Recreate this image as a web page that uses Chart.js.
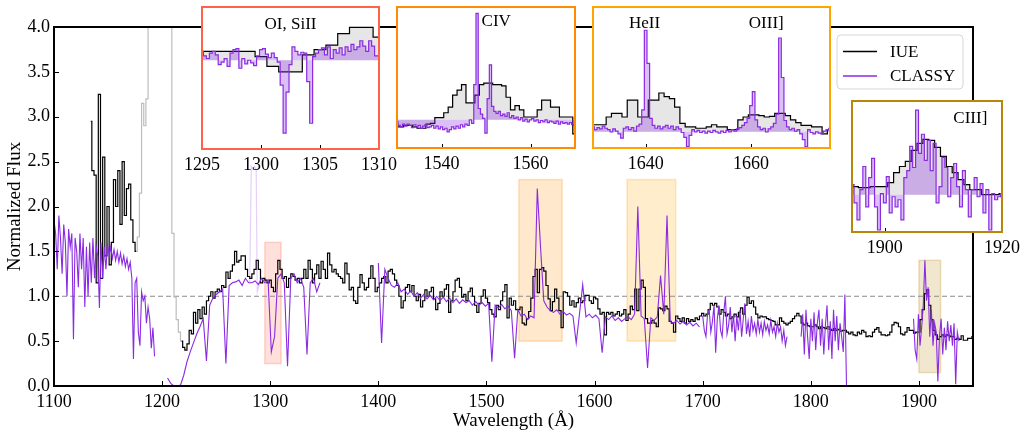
<!DOCTYPE html>
<html>
<head>
<meta charset="utf-8">
<script src="https://cdn.jsdelivr.net/npm/chart.js@4.4.1/dist/chart.umd.min.js"></script>
<style>
  body { margin: 0; background: #fff; width: 1026px; height: 436px; overflow: hidden; position: relative; }
  canvas { position: absolute; }
</style>
</head>
<body>
<canvas id="main" width="1026" height="436" style="left:0;top:0"></canvas>
<canvas id="insetOI"></canvas>
<canvas id="insetCIV"></canvas>
<canvas id="insetHeII"></canvas>
<canvas id="insetCIII"></canvas>
<script>
// ---- main panel ----
const xTicks = [1100, 1200, 1300, 1400, 1500, 1600, 1700, 1800, 1900];
const yTicks = [0, 0.5, 1, 1.5, 2, 2.5, 3, 3.5, 4];
const refLevel = 1.0;

// IUE, 2 A bins starting at 1134 A (nulls = masked Lya region)
const iueStart = 1134, iueStep = 2;
const iueFlux = [
  2.95, 2.4, 2.35, 1.15, 3.25, 1.2, 2.55, 1.45, 2.0, 1.35,      // 1134
  1.6, 2.3, 2.0, 2.4, 1.8, 2.5, 1.9, 2.2, 2.25, 1.85,           // 1154
  1.6, 1.5, null, null, null, null, null, null, null, null,     // 1174
  null, null, null, null, null, null, null, null, null, null,   // 1194
  null, null, 0.5, 0.43, 0.4, 0.47, 0.62, 0.58, 0.82, 0.7,      // 1214
  0.85, 0.75, 0.88, 0.8, 0.95, 1.0, 1.05, 0.98, 1.05, 1.08,     // 1234
  1.05, 1.12, 1.1, 1.27, 1.2, 1.28, 1.35, 1.5, 1.38, 1.4,       // 1254
  1.45, 1.45, 1.3, 1.22, 1.2, 1.25, 1.3, 1.4, 1.3, 1.15,        // 1274
  1.2, 1.18, 1.15, 1.18, 1.1, 1.05, 1.25, 1.4, 1.3, 1.2,        // 1294
  1.22, 1.1, 1.2, 1.25, 1.22, 1.18, 1.2, 1.15, 1.2, 1.3,        // 1314
  1.2, 1.4, 1.3, 1.15, 1.25, 1.35, 1.2, 1.39, 1.3, 1.2,         // 1334
  1.48, 1.35, 1.27, 1.3, 1.25, 1.22, 1.2, 1.15, 1.37, 1.25,     // 1354
  1.07, 1.1, 0.95, 0.92, 1.1, 1.24, 1.15, 1.07, 1.1, 1.2,       // 1374
  1.34, 1.2, 1.05, 1.1, 1.15, 1.2, 1.22, 1.15, 1.28, 1.3,       // 1394
  1.25, 1.18, 1.12, 1.0, 0.87, 0.95, 1.1, 1.13, 1.05, 1.12,     // 1414
  1.0, 0.95, 1.02, 0.88, 0.95, 1.07, 1.0, 1.05, 1.1, 0.97,      // 1434
  0.85, 0.92, 1.05, 1.0, 1.08, 1.13, 0.82, 0.95, 1.05, 1.18,    // 1454
  1.2, 1.1, 0.99, 1.02, 0.95, 1.05, 1.09, 1.0, 0.9, 0.82,       // 1474
  0.92, 1.0, 1.07, 0.98, 0.93, 0.85, 0.8, 0.77, 0.9, 0.85,      // 1494
  0.95, 1.05, 1.13, 0.76, 0.98, 0.9, 0.95, 0.85, 0.85, 0.88,    // 1514
  0.7, 0.68, 0.75, 0.83, 0.98, 1.22, 1.3, 1.04, 1.3, 1.32,      // 1534
  1.28, 1.12, 0.97, 0.84, 0.94, 1.08, 0.98, 0.84, 0.65, 1.05,   // 1554
  1.04, 1.0, 0.9, 0.95, 0.88, 0.93, 0.98, 0.93, 0.95, 1.01,     // 1574
  1.01, 0.95, 0.92, 0.99, 0.97, 0.86, 0.8, 0.82, 0.57, 0.82,    // 1594
  0.8, 0.82, 0.78, 0.8, 0.83, 0.78, 0.8, 0.85, 0.73, 0.8,       // 1614
  0.89, 0.85, 1.08, 0.84, 1.08, 1.18, 1.1, 0.75, 0.7, 0.7,      // 1634
  0.73, 0.7, 0.66, 0.87, 0.86, 0.84, 0.89, 0.86, 0.72, 0.7,     // 1654
  0.6, 0.78, 0.75, 0.72, 0.76, 0.7, 0.75, 0.72, 0.74, 0.72,     // 1674
  0.76, 0.74, 0.78, 0.81, 0.78, 0.8, 0.85, 0.92, 0.9, 0.92,     // 1694
  0.88, 0.8, 0.85, 0.82, 0.78, 0.8, 0.75, 0.77, 0.8, 0.77,      // 1714
  0.82, 0.87, 0.8, 0.9, 0.99, 0.92, 0.95, 0.88, 0.8, 0.76,      // 1734
  0.78, 0.77, 0.77, 0.75, 0.74, 0.73, 0.72, 0.68, 0.68, 0.76,   // 1754
  0.72, 0.7, 0.68, 0.7, 0.72, 0.75, 0.78, 0.81, 0.78, 0.7,      // 1774
  0.68, 0.7, 0.67, 0.66, 0.66, 0.68, 0.66, 0.64, 0.66, 0.65,    // 1794
  0.64, 0.66, 0.63, 0.62, 0.64, 0.62, 0.63, 0.61, 0.62, 0.62,   // 1814
  0.6, 0.58, 0.6, 0.57, 0.56, 0.6, 0.58, 0.62, 0.6, 0.55,       // 1834
  0.56, 0.55, 0.6, 0.63, 0.65, 0.6, 0.57, 0.57, 0.56, 0.57,     // 1854
  0.6, 0.68, 0.71, 0.7, 0.66, 0.58, 0.57, 0.6, 0.65, 0.62,      // 1874
  0.62, 0.59, 0.6, 0.6, 0.74, 0.85, 1.03, 1.07, 0.9, 0.74,      // 1894
  0.62, 0.57, 0.52, 0.55, 0.57, 0.55, 0.57, 0.56, 0.55, 0.55,   // 1914
  0.52, 0.53, 0.52, 0.56, 0.51, 0.51, 0.53, 0.53, 0.55          // 1934
];

// IUE inside the masked Lya window (light grey)
const iueMaskStart = 1176, iueMaskStep = 2;
const iueMaskFlux = [1.5, 1.66, 2.15, 3.15, 2.9, 3.2, 4.5, 4.5, 4.5, 4.5, 4.5,
  4.5, 4.5, 4.5, 4.5, 4.5, 4.5, 1.7, 0.99, 0.74, 0.6, 0.5];

// CLASSY, one array per detector segment
const classyBlue = [ // 1100, 1.5 A
  1.85, 1.70, 1.30, 1.90, 1.65, 1.25, 1.80, 1.60, 1.00, 1.75,
  1.55, 1.70, 0.52, 1.65, 1.50, 1.10, 1.70, 1.30, 1.65, 0.88,
  1.55, 1.00, 1.60, 1.15, 1.65, 1.20, 1.55, 1.45, 0.87, 1.60,
  1.20, 1.55, 1.30, 1.58, 1.45, 1.55, 1.42, 1.52, 1.40, 1.50,
  1.38, 1.48, 1.36, 1.45, 1.33, 1.42, 1.30, 1.38, 1.20, 0.30,
  1.15, 1.20, 0.60, 0.45, 1.05, 0.95, 1.00, 0.70, 0.88, 0.75,
  0.42, 0.65, 0.33
];
const classyLya = [ // 1205, 3 A
  0.09, 0.03, 0.0, 0.0, 0.01,
  0.12, 0.27, 0.38, 0.48, 0.58, 0.66, 0.75, 0.28, 0.9, 0.98,
  1.02, 1.05, 1.08, 0.25, 1.12, 1.15, 1.16, 1.18, 1.12, 1.2,
  1.15, 1.15, 1.17, 1.13, 1.2, 1.15, 1.18, 0.38, 0.55, 1.2,
  1.25, 1.15, 0.22, 1.2, 1.25, 1.15, 1.2, 1.1, 0.35, 1.15,
  1.2, 1.05, 1.15
];
const classyMid = [ // 1400, 3 A
  1.37, 0.48, 1.3, 1.2, 1.12, 1.1, 1.15, 1.05, 1.08, 1.02,
  1.06, 1.0, 1.04, 0.98, 1.02, 0.97, 1.01, 0.96, 1.0, 0.95,
  0.99, 0.94, 0.98, 0.93, 0.97, 0.92, 0.96, 0.93, 0.95, 0.9,
  0.94, 0.9, 0.93, 0.89, 0.92, 0.27, 0.9, 0.87, 0.91, 0.86,
  0.89, 0.84, 0.31, 0.85, 0.78, 0.8, 0.74, 0.78, 0.76, 2.2,
  1.55, 0.95, 0.88, 0.84, 0.82, 0.85, 0.8, 0.83, 0.79, 0.81,
  0.78, 0.48, 0.8, 1.13, 0.77, 0.8, 0.76, 0.79, 0.75, 0.37,
  0.77, 0.74, 0.78, 0.73, 0.76, 0.72, 0.75, 0.77, 0.74, 0.8,
  2.0, 0.78, 0.75, 0.2, 0.76, 0.73, 0.77, 1.23, 0.8, 1.9,
  0.72, 0.7, 0.73, 0.69, 0.72, 0.68, 0.71, 0.67, 0.7, 0.66
];
const classyRed1 = [ // 1700, 1.5 A
  0.78, 0.62, 0.55, 0.80, 0.85, 0.60, 0.72, 0.90, 0.37, 0.75,
  0.90, 0.62, 0.55, 0.82, 1.00, 0.58, 0.68, 0.88, 0.60, 0.80,
  0.50, 0.78, 0.62, 0.85, 0.55, 0.75, 0.92, 0.58, 0.72, 0.55,
  0.78, 0.62, 0.70, 0.58, 0.74, 0.60, 0.70, 0.57, 0.72, 0.62,
  0.68, 0.58, 0.73, 0.60, 0.66, 0.55, 0.70, 0.60, 0.66, 0.50,
  0.62, 0.45, 0.55
];
const classyRed2 = [ // 1791, 1.5 A
  0.55, 0.80, 0.35, 0.85, 0.55, 0.30, 0.75, 0.50, 0.82, 0.40,
  0.70, 0.85, 0.45, 0.75, 0.35, 0.68, 0.90, 0.40, 0.72, 0.30,
  0.85, 0.50, 0.78, 0.40, 0.70, 0.55, 0.38, 1.02, 0.0
];
const classyRed3 = [ // 1895, 1.5 A
  0.75, 0.40, 0.30, 0.80, 0.45, 0.65, 0.90, 1.40, 0.95, 1.10,
  0.55, 0.85, 0.45, 0.70, 0.60, 0.05, 0.55, 0.75, 0.35, 0.65,
  0.40, 0.72, 0.50, 0.68, 0.45, 0.70, 0.02, 0.60, 0.50
];
const classyStarts = [1100, 1205, 1400, 1700, 1791, 1895];
const classySteps = [1.5, 3, 3, 1.5, 1.5, 1.5];
const classySegments = [classyBlue, classyLya, classyMid, classyRed1, classyRed2, classyRed3];

// CLASSY airglow-masked pixels (pale purple)
const airglowWave = [1281, 1282.5, 1284, 1285.5, 1287, 1288, 1290];
const airglowFlux = [1.15, 2.45, 2.42, 2.45, 2.4, 1.05, 1.15];
// masked stretches drawn at zero (light grey)
const zeroMaskFrom = [1177, 1281];
const zeroMaskTo = [1198, 1290];

// highlighted windows shown in the insets
const winFrom = [1295, 1530, 1630, 1900];
const winTo = [1310, 1570, 1675, 1920];
const winLow = [0.25, 0.5, 0.5, 0.15];
const winHigh = [1.6, 2.3, 2.3, 1.4];
const winColors = ['#ff6347', '#ff8c00', '#ffa500', '#b8860b'];

// ---- insets ----
const oiTicks = [1295, 1300, 1305, 1310];
const oiIueFlux = [1.1, 1.1, 1.1, 1.1, 1.1, 1.04, 0.93, 0.87, 0.87, 1.06, 1.12, 1.17, 1.3, 1.37, 1.37, 1.26]; // 1295, 1 A
const oiClassyFlux = [ // 1295, 0.25 A
  1.10, 1.05, 1.02, 1.08, 1.10, 1.06, 0.95, 0.98, 1.02, 0.93,
  1.08, 1.12, 1.13, 0.91, 1.02, 0.96, 1.00, 0.97, 0.94, 1.05,
  1.12, 1.13, 1.07, 1.03, 1.08, 1.03, 0.98, 0.72, 0.18, 0.64,
  0.95, 1.15, 1.10, 1.06, 1.09, 1.08, 0.76, 0.29, 1.04, 1.08,
  1.12, 1.14, 1.06, 1.15, 1.02, 1.12, 1.08, 1.14, 1.06, 1.15,
  1.10, 1.18, 1.12, 1.15, 1.22, 1.16, 1.10, 1.22, 1.16, 1.05,
  1.05
];

const civTicks = [1540, 1560];
const civIueFlux = [ // 1530, 1 A
  0.70, 0.70, 0.72, 0.72, 0.70, 0.68, 0.68, 0.74, 0.75, 0.83,
  0.83, 0.90, 0.98, 1.15, 1.22, 1.30, 1.04, 1.04, 1.15, 1.30,
  1.32, 1.32, 1.30, 1.30, 1.28, 1.12, 0.94, 1.00, 0.94, 0.84,
  0.84, 0.84, 0.94, 1.08, 1.08, 0.98, 0.98, 0.84, 0.84, 0.84,
  0.60
];
const civClassyFlux = [ // 1530, 0.5 A
  0.77, 0.72, 0.70, 0.74, 0.71, 0.74, 0.72, 0.69, 0.73, 0.70,
  0.72, 0.68, 0.71, 0.73, 0.69, 0.70, 0.72, 0.68, 0.71, 0.67,
  0.70, 0.66, 0.68, 0.63, 0.66, 0.70, 0.67, 0.71, 0.68, 0.73,
  0.70, 0.74, 0.72, 0.80, 0.75, 1.30, 2.31, 0.96, 0.88, 0.82,
  0.61, 1.10, 1.58, 0.99, 0.92, 0.89, 0.92, 0.86, 0.88, 0.85,
  0.90, 0.83, 0.86, 0.82, 0.84, 0.80, 0.83, 0.78, 0.81, 0.77,
  0.80, 0.82, 0.78, 0.80, 0.76, 0.79, 0.77, 0.80, 0.76, 0.78,
  0.77, 0.75, 0.78, 0.74, 0.77, 0.75, 0.76, 0.74, 0.76, 0.73,
  0.72
];

const heTicks = [1640, 1660];
const heIueFlux = [ // 1630, 1 A
  0.73, 0.73, 0.73, 0.84, 0.89, 0.89, 0.84, 1.08, 1.08, 0.84,
  0.84, 1.08, 1.08, 1.18, 1.13, 1.10, 0.98, 0.75, 0.70, 0.70,
  0.68, 0.68, 0.70, 0.73, 0.70, 0.70, 0.66, 0.66, 0.80, 0.84,
  0.87, 0.87, 0.86, 0.84, 0.85, 0.89, 0.89, 0.86, 0.80, 0.76,
  0.72, 0.72, 0.70, 0.70, 0.60, 0.66
];
const heClassyFlux = [ // 1630, 0.5 A
  0.70, 0.66, 0.69, 0.67, 0.71, 0.68, 0.66, 0.63, 0.67, 0.64,
  0.60, 0.54, 0.68, 0.70, 0.66, 0.69, 0.64, 0.71, 0.74, 0.94,
  2.07, 1.60, 0.82, 0.72, 0.68, 0.71, 0.67, 0.70, 0.72, 0.68,
  0.71, 0.66, 0.70, 0.67, 0.62, 0.55, 0.42, 0.58, 0.66, 0.63,
  0.65, 0.62, 0.64, 0.61, 0.64, 0.62, 0.65, 0.63, 0.61, 0.64,
  0.62, 0.65, 0.63, 0.66, 0.64, 0.67, 0.69, 0.72, 0.76, 0.82,
  1.00, 1.20, 0.80, 0.70, 0.66, 0.68, 0.63, 0.67, 0.70, 0.75,
  0.88, 1.96, 1.40, 0.79, 0.70, 0.66, 0.68, 0.64, 0.66, 0.60,
  0.52, 0.42, 0.66, 0.62, 0.60, 0.63, 0.61, 0.60, 0.64, 0.66,
  0.68
];

const ciiiTicks = [1900, 1920];
const ciiiIueFlux = [ // 1894, 1 A
  0.62, 0.60, 0.59, 0.59, 0.60, 0.60, 0.60, 0.64, 0.74, 0.80,
  0.85, 0.96, 1.03, 1.07, 1.06, 0.99, 0.90, 0.80, 0.74, 0.67,
  0.62, 0.57, 0.57, 0.52, 0.52, 0.52, 0.53
];
const ciiiClassyFlux = [ // 1894.5, 0.5 A
  0.62, 0.44, 0.27, 0.57, 0.80, 0.40, 0.69, 0.88, 0.40, 0.17,
  0.53, 0.44, 0.70, 0.34, 0.50, 0.40, 0.47, 0.27, 0.69, 0.76,
  1.00, 0.79, 1.36, 0.93, 1.12, 0.86, 1.06, 0.76, 1.03, 0.44,
  0.60, 0.89, 0.79, 0.50, 0.69, 0.83, 0.60, 0.40, 0.76, 0.57,
  0.30, 0.57, 0.69, 0.50, 0.63, 0.34, 0.57, 0.17, 0.53, 0.47,
  0.50, 0.53
];

const purple = '#8a2be2';
const serif = '"Liberation Serif", "Times New Roman", serif';

Chart.defaults.font.family = serif;
Chart.defaults.font.size = 18;
Chart.defaults.color = '#000';
Chart.defaults.elements.point.radius = 0;

function spectrum(start, step, flux) {
  return flux.map((f, i) => ({ x: start + i * step, y: f }));
}

function pairs(wave, flux) {
  return wave.map((w, i) => ({ x: w, y: flux[i] }));
}

// join the detector segments, leaving a break between them
function segments(starts, steps, parts) {
  let pts = [];
  parts.forEach((flux, i) => {
    const seg = spectrum(starts[i], steps[i], flux);
    pts = pts.concat(seg, [{ x: seg[seg.length - 1].x, y: null }]);
  });
  return pts;
}

function rgba(hex, a) {
  const n = parseInt(hex.slice(1), 16);
  return `rgba(${n >> 16},${(n >> 8) & 255},${n & 255},${a})`;
}

// border + inward tick marks (+ optional white background for insets)
function framePlugin(cfg) {
  return {
    id: 'frame',
    beforeDraw(chart) {
      if (!cfg.background) return;
      const a = chart.chartArea, ctx = chart.ctx;
      ctx.save();
      ctx.fillStyle = cfg.background;
      ctx.fillRect(a.left, a.top, a.width, a.height);
      ctx.restore();
    },
    afterDatasetsDraw(chart) {
      const a = chart.chartArea, ctx = chart.ctx;
      const xs = chart.scales.x, ys = chart.scales.y;
      ctx.save();
      ctx.strokeStyle = '#000';
      ctx.lineWidth = 1;
      ctx.beginPath();
      xs.ticks.forEach(t => {
        const px = Math.round(xs.getPixelForValue(t.value)) + 0.5;
        ctx.moveTo(px, a.bottom);
        ctx.lineTo(px, a.bottom - cfg.tickLen);
      });
      if (cfg.yTicks) {
        ys.ticks.forEach(t => {
          const py = Math.round(ys.getPixelForValue(t.value)) + 0.5;
          ctx.moveTo(a.left, py);
          ctx.lineTo(a.left + cfg.tickLen, py);
        });
      }
      ctx.stroke();
      ctx.strokeStyle = cfg.color;
      ctx.lineWidth = cfg.width;
      ctx.strokeRect(a.left, a.top, a.width, a.height);
      ctx.restore();
    }
  };
}

// shaded wavelength windows on the main panel
const windowsPlugin = {
  id: 'windows',
  beforeDatasetsDraw(chart) {
    const ctx = chart.ctx, xs = chart.scales.x, ys = chart.scales.y;
    ctx.save();
    winFrom.forEach((w, i) => {
      const x0 = xs.getPixelForValue(w), x1 = xs.getPixelForValue(winTo[i]);
      const y0 = ys.getPixelForValue(winHigh[i]), y1 = ys.getPixelForValue(winLow[i]);
      ctx.fillStyle = rgba(winColors[i], 0.2);
      ctx.fillRect(x0, y0, x1 - x0, y1 - y0);
      ctx.strokeStyle = rgba(winColors[i], 0.25);
      ctx.lineWidth = 1.5;
      ctx.strokeRect(x0, y0, x1 - x0, y1 - y0);
    });
    ctx.restore();
  }
};

// boxed legend in the upper right of the main panel
const legendNames = ['IUE', 'CLASSY'];
const legendPlugin = {
  id: 'legendBox',
  afterDraw(chart) {
    const ctx = chart.ctx, a = chart.chartArea;
    const w = 126, h = 54, r = 4;
    const x = a.right - 10 - w, y = a.top + 8;
    ctx.save();
    ctx.beginPath();
    ctx.moveTo(x + r, y);
    ctx.arcTo(x + w, y, x + w, y + h, r);
    ctx.arcTo(x + w, y + h, x, y + h, r);
    ctx.arcTo(x, y + h, x, y, r);
    ctx.arcTo(x, y, x + w, y, r);
    ctx.closePath();
    ctx.fillStyle = 'rgba(255,255,255,0.85)';
    ctx.fill();
    ctx.strokeStyle = '#d6d6d6';
    ctx.lineWidth = 1;
    ctx.stroke();
    ctx.font = '17px ' + serif;
    ctx.textBaseline = 'middle';
    ctx.textAlign = 'left';
    legendNames.forEach((name, i) => {
      const ds = chart.data.datasets.find(d => d.label === name);
      const ly = y + 16.5 + i * 24.5;
      ctx.strokeStyle = ds.borderColor;
      ctx.lineWidth = 1.5;
      ctx.beginPath();
      ctx.moveTo(x + 6, ly);
      ctx.lineTo(x + 40, ly);
      ctx.stroke();
      ctx.fillStyle = '#000';
      ctx.fillText(name, x + 53, ly + 1);
    });
    ctx.restore();
  }
};

function zeroMaskData() {
  const pts = [];
  zeroMaskFrom.forEach((w, i) => {
    pts.push({ x: w, y: 0 }, { x: zeroMaskTo[i], y: 0 }, { x: zeroMaskTo[i], y: null });
  });
  return pts;
}

new Chart(document.getElementById('main'), {
  type: 'line',
  data: {
    datasets: [
      { label: 'CLASSY', data: segments(classyStarts, classySteps, classySegments), borderColor: purple, borderWidth: 1.1 },
      { label: '', data: pairs(airglowWave, airglowFlux), borderColor: 'rgba(138,43,226,0.22)', borderWidth: 1.2 },
      { label: 'IUE', data: spectrum(iueStart, iueStep, iueFlux), borderColor: '#000', borderWidth: 1.2, stepped: 'middle' },
      { label: '', data: spectrum(iueMaskStart, iueMaskStep, iueMaskFlux), borderColor: '#bdbdbd', borderWidth: 1.2, stepped: 'middle' },
      { label: '', data: zeroMaskData(), borderColor: '#c8c8c8', borderWidth: 1.5 },
      { label: '', data: [{ x: 1100, y: refLevel }, { x: 1950, y: refLevel }], borderColor: '#8c8c8c', borderWidth: 1, borderDash: [5, 3] }
    ]
  },
  options: {
    responsive: false,
    animation: false,
    events: [],
    layout: { padding: { left: 0, right: 53, top: 27, bottom: 0 } },
    plugins: { legend: { display: false }, tooltip: { enabled: false } },
    scales: {
      x: {
        type: 'linear', min: 1100, max: 1950,
        afterBuildTicks: s => { s.ticks = xTicks.map(v => ({ value: v })); },
        afterFit: s => { s.height = 50; },
        grid: { display: false, drawTicks: false },
        border: { display: false },
        ticks: { autoSkip: false, maxRotation: 0, padding: 5, callback: v => String(v) },
        title: { display: true, text: 'Wavelength (Å)', font: { size: 19 }, padding: { top: 0, bottom: 4 } }
      },
      y: {
        type: 'linear', min: 0, max: 4,
        afterBuildTicks: s => { s.ticks = yTicks.map(v => ({ value: v })); },
        afterFit: s => { s.width = 54; },
        grid: { display: false, drawTicks: false },
        border: { display: false },
        ticks: { autoSkip: false, padding: 4, callback: v => v.toFixed(1) },
        title: { display: true, text: 'Normalized Flux', font: { size: 19 }, padding: { top: 4, bottom: 0 } }
      }
    }
  },
  plugins: [windowsPlugin, framePlugin({ color: '#000', width: 2, tickLen: 5, yTicks: true }), legendPlugin]
});

// line names written inside each inset
function namesPlugin(names, nameX, nameY, align) {
  return {
    id: 'lineNames',
    afterDatasetsDraw(chart) {
      const ctx = chart.ctx, xs = chart.scales.x, ys = chart.scales.y;
      ctx.save();
      ctx.font = '17px ' + serif;
      ctx.fillStyle = '#000';
      ctx.textBaseline = 'middle';
      ctx.textAlign = align;
      names.forEach((n, i) => ctx.fillText(n, xs.getPixelForValue(nameX[i]), ys.getPixelForValue(nameY[i])));
      ctx.restore();
    }
  };
}

const insets = [
  { id: 'insetOI', box: [202, 7, 177, 142], color: winColors[0], x: [1295, 1310], y: [0, 1.6], base: 1.0,
    ticks: oiTicks, iue: spectrum(1295, 1, oiIueFlux), classy: spectrum(1295, 0.25, oiClassyFlux),
    names: ['OI, SiII'], nameX: [1302.5], nameY: [1.4], align: 'center' },
  { id: 'insetCIV', box: [397, 7, 178, 141], color: winColors[1], x: [1530, 1570], y: [0.4, 2.4], base: 0.8,
    ticks: civTicks, iue: spectrum(1530, 1, civIueFlux), classy: spectrum(1530, 0.5, civClassyFlux),
    names: ['CIV'], nameX: [1549], nameY: [2.19], align: 'left' },
  { id: 'insetHeII', box: [593, 7, 237, 141], color: winColors[2], x: [1630, 1675], y: [0.4, 2.4], base: 0.63,
    ticks: heTicks, iue: spectrum(1630, 1, heIueFlux), classy: spectrum(1630, 0.5, heClassyFlux),
    names: ['HeII', 'OIII]'], nameX: [1639.8, 1662.9], nameY: [2.17, 2.17], align: 'center' },
  { id: 'insetCIII', box: [852, 101, 150, 131], color: winColors[3], x: [1894.4, 1920], y: [0.15, 1.45], base: 0.52,
    ticks: ciiiTicks, iue: spectrum(1894, 1, ciiiIueFlux), classy: spectrum(1894.5, 0.5, ciiiClassyFlux),
    names: ['CIII]'], nameX: [1914.6], nameY: [1.28], align: 'center' }
];

insets.forEach(ins => {
  const [l, t, w, h] = ins.box;
  const cv = document.getElementById(ins.id);
  cv.width = w + 50;
  cv.height = h + 5 + 32;
  cv.style.left = (l - 25) + 'px';
  cv.style.top = (t - 5) + 'px';
  new Chart(cv, {
    type: 'line',
    data: {
      datasets: [
        { data: ins.classy, borderColor: purple, borderWidth: 1.2, stepped: 'middle',
          fill: { value: ins.base }, backgroundColor: 'rgba(138,43,226,0.3)' },
        { data: ins.iue, borderColor: '#000', borderWidth: 1.2, stepped: 'middle',
          fill: { value: ins.base }, backgroundColor: 'rgba(128,128,128,0.2)' }
      ]
    },
    options: {
      responsive: false,
      animation: false,
      events: [],
      layout: { padding: { left: 25, right: 25, top: 5, bottom: 0 } },
      plugins: { legend: { display: false }, tooltip: { enabled: false } },
      scales: {
        x: {
          type: 'linear', min: ins.x[0], max: ins.x[1],
          afterBuildTicks: s => { s.ticks = ins.ticks.map(v => ({ value: v })); },
          afterFit: s => { s.height = 32; },
          grid: { display: false, drawTicks: false },
          border: { display: false },
          ticks: { autoSkip: false, maxRotation: 0, padding: 5, callback: v => String(v) }
        },
        y: { type: 'linear', min: ins.y[0], max: ins.y[1], display: false }
      }
    },
    plugins: [framePlugin({ color: ins.color, width: 2, tickLen: 4, background: '#fff' }),
      namesPlugin(ins.names, ins.nameX, ins.nameY, ins.align)]
  });
});
</script>
</body>
</html>
